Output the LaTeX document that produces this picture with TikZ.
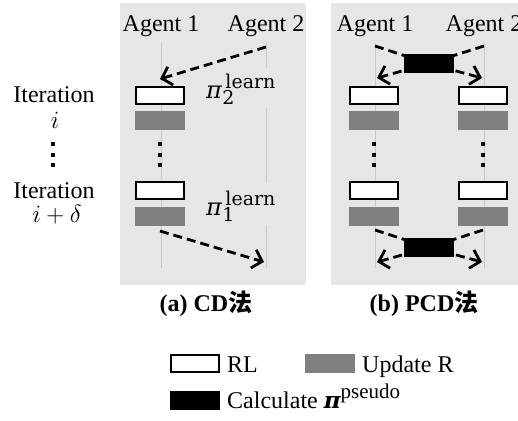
\documentclass[tikz,border=0pt]{standalone}
\usepackage{fontspec}
\setmainfont{Liberation Serif}
\newfontfamily\cjk{Noto Sans CJK SC}
\newfontfamily\dvs{DejaVu Serif}
\usetikzlibrary{arrows.meta}
\definecolor{bgc}{HTML}{E6E6E6}
\definecolor{vline}{HTML}{C8C8C8}
\definecolor{upd}{HTML}{808080}
\newcommand{\pil}[1]{{\dvs\fontsize{24}{26}\selectfont\itshape π}\kern0.5pt\rlap{\raisebox{-6pt}{\dvs\fontsize{19}{19}\selectfont #1}}\kern3pt\raisebox{10pt}{\dvs\fontsize{19}{19}\selectfont learn}}
\tikzset{
  rlbox/.style={draw=black, line width=2pt, fill=white, minimum width=48pt, minimum height=17pt, inner sep=0pt},
  updbox/.style={fill=upd, minimum width=50pt, minimum height=19pt, inner sep=0pt},
  calcbox/.style={fill=black, minimum width=50pt, minimum height=19pt, inner sep=0pt},
  agentline/.style={draw=vline, line width=1pt},
  darrow/.style={line width=2.8pt, dash pattern=on 9pt off 5pt, -{Straight Barb[length=9pt,width=19pt,line width=2.8pt]}},
  dline/.style={line width=2.8pt, dash pattern=on 9pt off 5pt},
  vdots/.style={line width=4pt, dash pattern=on 4pt off 6.5pt},
  lbl/.style={font=\fontsize{24}{28}\selectfont, inner sep=0pt},
  captxt/.style={font=\fontsize{24}{28}\selectfont\bfseries, inner sep=0pt},
  pilbl/.style={inner sep=0pt, anchor=base west},
}
\begin{document}
\begin{tikzpicture}[x=1pt,y=-1pt]
\clip (0,0) rectangle (518,420);
\fill[white] (0,0) rectangle (518,420);
% panel backgrounds
\fill[bgc] (120,3) rectangle (306,285);
\fill[bgc] (331,3) rectangle (520,285);

% ---------- left column ----------
\node[lbl, anchor=base] (it1) at (54,102) {Iteration};
\node[lbl, anchor=base] (ii) at (55,128) {$i$};
\coordinate (ld1) at (53,142);
\coordinate (ld2) at (53,168);
\draw[vdots] (ld1) -- (ld2);
\node[lbl, anchor=base] (it2) at (54,198) {Iteration};
\node[lbl, anchor=base] (iid) at (57,222) {$i+\delta$};

% ---------- panel (a) ----------
\node[lbl, anchor=base] (aA1) at (161,31) {Agent 1};
\node[lbl, anchor=base] (aA2) at (266,31) {Agent 2};
\coordinate (aL1t) at (161,43);
\coordinate (aL1b) at (161,268);
\draw[agentline] (aL1t) -- (aL1b);
\coordinate (aL2a) at (266,43);
\coordinate (aL2b) at (266,68);
\coordinate (aL2c) at (266,108);
\coordinate (aL2d) at (266,183);
\coordinate (aL2e) at (266,225);
\coordinate (aL2f) at (266,268);
\draw[agentline] (aL2a) -- (aL2b) (aL2c) -- (aL2d) (aL2e) -- (aL2f);

\node[rlbox] (arl1) at (160,95.5) {};
\node[updbox] (aup1) at (160,120) {};
\coordinate (ad1) at (160,142);
\coordinate (ad2) at (160,168);
\draw[vdots] (ad1) -- (ad2);
\node[rlbox] (arl2) at (160,190) {};
\node[updbox] (aup2) at (160,216.5) {};

\coordinate (aTs) at (266,47);
\coordinate (aTe) at (160,79);
\draw[darrow] (aTs) -- (aTe);
\coordinate (aBs) at (160,231);
\coordinate (aBe) at (264,262);
\draw[darrow] (aBs) -- (aBe);

\node[pilbl] (pi2) at (206,98) {\pil{2}};
\node[pilbl] (pi1) at (206,215) {\pil{1}};

% ---------- panel (b) ----------
\node[lbl, anchor=base] (bA1) at (375,31) {Agent 1};
\node[lbl, anchor=base] (bA2) at (484,31) {Agent 2};
\coordinate (bL1t) at (375,43);
\coordinate (bL1b) at (375,268);
\coordinate (bL2t) at (484,43);
\coordinate (bL2b) at (484,268);
\draw[agentline] (bL1t) -- (bL1b);
\draw[agentline] (bL2t) -- (bL2b);

\node[rlbox] (brl1) at (374,95.5) {};
\node[updbox] (bup1) at (374,120) {};
\node[rlbox] (brl2) at (374,190) {};
\node[updbox] (bup2) at (374,216.5) {};
\node[rlbox] (brl3) at (483,95.5) {};
\node[updbox] (bup3) at (483,120) {};
\node[rlbox] (brl4) at (483,190) {};
\node[updbox] (bup4) at (483,216.5) {};
\coordinate (bd1) at (374,142);
\coordinate (bd2) at (374,168);
\coordinate (bd3) at (483,142);
\coordinate (bd4) at (483,168);
\draw[vdots] (bd1) -- (bd2);
\draw[vdots] (bd3) -- (bd4);

% top calc
\coordinate (bc1) at (428.5,63.5);
\coordinate (bT1) at (375,46);
\coordinate (bT2) at (484,46);
\coordinate (bT1e) at (377,78);
\coordinate (bT2e) at (482,78);
\draw[dline] (bT1) -- (bc1);
\draw[dline] (bT2) -- (bc1);
\draw[darrow] (bc1) -- (bT1e);
\draw[darrow] (bc1) -- (bT2e);
\node[calcbox] (calc1) at (bc1) {};

% bottom calc
\coordinate (bc2) at (429,247.5);
\coordinate (bB1) at (375,230);
\coordinate (bB2) at (483,230);
\coordinate (bB1e) at (377,262);
\coordinate (bB2e) at (482,262);
\draw[dline] (bB1) -- (bc2);
\draw[dline] (bB2) -- (bc2);
\draw[darrow] (bc2) -- (bB1e);
\draw[darrow] (bc2) -- (bB2e);
\node[calcbox] (calc2) at (bc2) {};

% captions
\node[captxt, anchor=base] (capa) at (206,311) {(a) CD{\cjk 法}};
\node[captxt, anchor=base] (capb) at (424,311) {(b) PCD{\cjk 法}};

% legend
\node[rlbox] (lrl) at (195,363) {};
\node[lbl, anchor=base west] (lrlt) at (227,372) {RL};
\node[updbox] (lup) at (330,363.5) {};
\node[lbl, anchor=base west] (lupt) at (362,372) {Update R};
\node[calcbox] (lcalc) at (195,400) {};
\node[lbl, anchor=base west] (lcalct) at (227,408) {Calculate {\dvs\fontsize{23}{24}\selectfont\bfseries\itshape π}\raisebox{10pt}{\fontsize{21}{21}\selectfont pseudo}};
\end{tikzpicture}
\end{document}
